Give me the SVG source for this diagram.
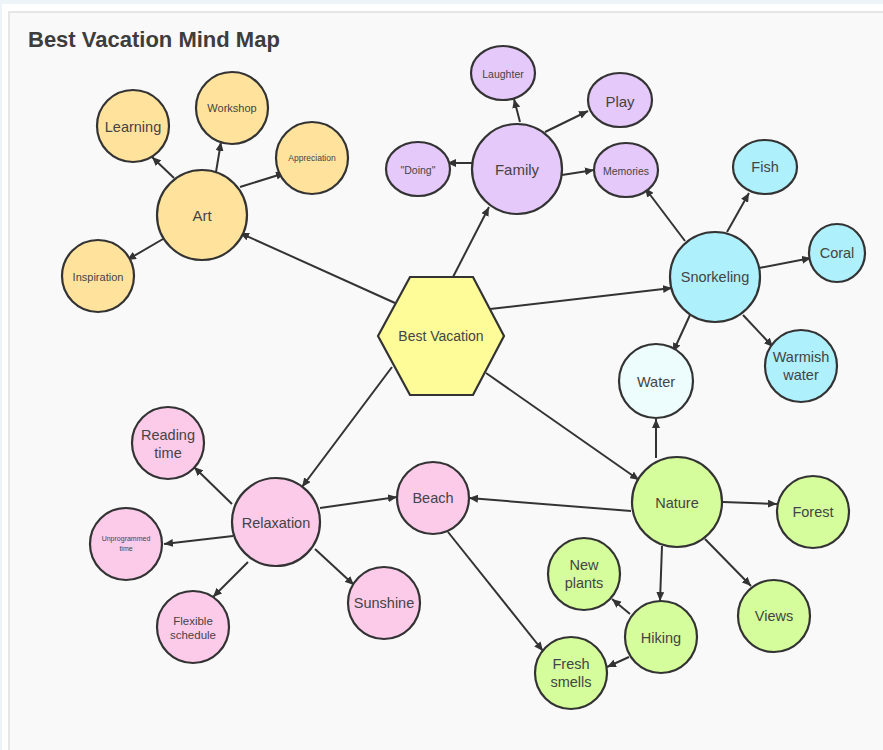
<svg xmlns="http://www.w3.org/2000/svg" width="883" height="750" viewBox="0 0 883 750">
<defs>
<marker id="arr" markerUnits="userSpaceOnUse" markerWidth="9" markerHeight="8" refX="9" refY="4" orient="auto">
<path d="M0,0 L9,4 L0,8 z" fill="#333"/>
</marker>
<style>
.n{stroke:#333;stroke-width:2.2}
.art{fill:#ffe39d}
.fam{fill:#e6c9fb}
.sn{fill:#aef0fc}
.wat{fill:#edfcfd}
.rel{fill:#fccbea}
.nat{fill:#d5fd9b}
.hex{fill:#fdfc98}
text{font-family:"Liberation Sans",Arial,sans-serif;fill:#444;text-anchor:middle;dominant-baseline:central}
.e line{stroke:#333;stroke-width:2;marker-end:url(#arr)}
</style>
</defs>
<rect x="0" y="0" width="883" height="750" fill="#eef5f9"/>
<rect x="2" y="4" width="881" height="746" fill="#ffffff"/>
<rect x="9" y="12" width="880" height="745" fill="#f9f9f9" stroke="#e6e6e6" stroke-width="2"/>
<text x="28" y="39" style="text-anchor:start;font-weight:bold;font-size:22px;fill:#3d3d3d">Best Vacation Mind Map</text>

<g id="connectors" class="e">
<line x1="395" y1="303" x2="240" y2="233"/>
<line x1="174" y1="178" x2="152" y2="157"/>
<line x1="216" y1="172" x2="221" y2="142"/>
<line x1="240" y1="187" x2="285" y2="173"/>
<line x1="163" y1="239" x2="127" y2="260"/>
<line x1="453" y1="277" x2="489" y2="207"/>
<line x1="520" y1="122" x2="514" y2="99"/>
<line x1="545" y1="132" x2="588" y2="111"/>
<line x1="472" y1="163" x2="447" y2="163"/>
<line x1="562" y1="175" x2="594" y2="170"/>
<line x1="490" y1="309" x2="672" y2="288"/>
<line x1="685" y1="241" x2="645" y2="188"/>
<line x1="727" y1="232" x2="749" y2="193"/>
<line x1="759" y1="268" x2="811" y2="258"/>
<line x1="743" y1="315" x2="773" y2="347"/>
<line x1="690" y1="315" x2="673" y2="352"/>
<line x1="392" y1="367" x2="302" y2="487"/>
<line x1="232" y1="504" x2="194" y2="467"/>
<line x1="233" y1="536" x2="164" y2="544"/>
<line x1="248" y1="562" x2="213" y2="597"/>
<line x1="315" y1="549" x2="354" y2="585"/>
<line x1="320" y1="508" x2="397" y2="497"/>
<line x1="631" y1="511" x2="469" y2="498"/>
<line x1="448" y1="532" x2="543" y2="651"/>
<line x1="486" y1="373" x2="639" y2="480"/>
<line x1="656" y1="458" x2="656" y2="419"/>
<line x1="723" y1="502" x2="777" y2="504"/>
<line x1="705" y1="539" x2="751" y2="586"/>
<line x1="662" y1="546" x2="660" y2="601"/>
<line x1="630" y1="614" x2="612" y2="599"/>
<line x1="629" y1="657" x2="607" y2="667"/>
</g>

<g id="best-vacation"><polygon class="n hex" points="378,336 410,277 473,277 504,336 473,395 410,395"/><text x="441" y="336" style="font-size:14px">Best Vacation</text></g>

<g id="art"><circle class="n art" cx="202" cy="215" r="45"/><text x="202" y="215" style="font-size:15px">Art</text></g>
<g id="learning"><circle class="n art" cx="133" cy="126" r="36"/><text x="133" y="127" style="font-size:14.5px">Learning</text></g>
<g id="workshop"><circle class="n art" cx="232" cy="108" r="36"/><text x="232" y="108" style="font-size:11px">Workshop</text></g>
<g id="appreciation"><circle class="n art" cx="312" cy="158" r="36"/><text x="312" y="158" style="font-size:8.5px">Appreciation</text></g>
<g id="inspiration"><circle class="n art" cx="98" cy="276" r="36"/><text x="98" y="277" style="font-size:11px">Inspiration</text></g>

<g id="family"><circle class="n fam" cx="517" cy="169" r="45"/><text x="517" y="169" style="font-size:15px">Family</text></g>
<g id="laughter"><ellipse class="n fam" cx="503" cy="73" rx="32" ry="27"/><text x="503" y="74" style="font-size:10.5px">Laughter</text></g>
<g id="play"><ellipse class="n fam" cx="620" cy="100" rx="32" ry="27"/><text x="620" y="101" style="font-size:15px">Play</text></g>
<g id="doing"><ellipse class="n fam" cx="418" cy="169" rx="32" ry="27"/><text x="418" y="170" style="font-size:10.5px">"Doing"</text></g>
<g id="memories"><ellipse class="n fam" cx="626" cy="170" rx="32" ry="27"/><text x="626" y="171" style="font-size:10.5px">Memories</text></g>

<g id="snorkeling"><circle class="n sn" cx="715" cy="277" r="45"/><text x="715" y="277" style="font-size:14.5px">Snorkeling</text></g>
<g id="fish"><ellipse class="n sn" cx="765" cy="167" rx="32" ry="27"/><text x="765" y="167" style="font-size:14.5px">Fish</text></g>
<g id="coral"><ellipse class="n sn" cx="837" cy="253" rx="28" ry="29"/><text x="837" y="253" style="font-size:14.5px">Coral</text></g>
<g id="warmish-water"><circle class="n sn" cx="801" cy="366" r="36"/><text x="801" y="357" style="font-size:14.5px">Warmish</text><text x="801" y="375" style="font-size:14.5px">water</text></g>
<g id="water"><circle class="n wat" cx="656" cy="381" r="37"/><text x="656" y="382" style="font-size:14.5px">Water</text></g>

<g id="relaxation"><circle class="n rel" cx="276" cy="522" r="44"/><text x="276" y="523" style="font-size:14.5px">Relaxation</text></g>
<g id="reading-time"><circle class="n rel" cx="168" cy="443" r="36"/><text x="168" y="435" style="font-size:14.5px">Reading</text><text x="168" y="453" style="font-size:14.5px">time</text></g>
<g id="unprogrammed-time"><circle class="n rel" cx="126" cy="544" r="36"/><text x="126" y="538.5" style="font-size:7px">Unprogrammed</text><text x="126" y="548.5" style="font-size:7px">time</text></g>
<g id="flexible-schedule"><circle class="n rel" cx="193" cy="627" r="36"/><text x="193" y="621" style="font-size:11.5px">Flexible</text><text x="193" y="635" style="font-size:11.5px">schedule</text></g>
<g id="sunshine"><circle class="n rel" cx="384" cy="603" r="36"/><text x="384" y="603" style="font-size:14.5px">Sunshine</text></g>
<g id="beach"><circle class="n rel" cx="433" cy="498" r="36"/><text x="433" y="498" style="font-size:14.5px">Beach</text></g>

<g id="nature"><circle class="n nat" cx="677" cy="502" r="45"/><text x="677" y="503" style="font-size:14.5px">Nature</text></g>
<g id="forest"><circle class="n nat" cx="813" cy="512" r="36"/><text x="813" y="512" style="font-size:14.5px">Forest</text></g>
<g id="views"><circle class="n nat" cx="774" cy="616" r="36"/><text x="774" y="616" style="font-size:14.5px">Views</text></g>
<g id="hiking"><circle class="n nat" cx="661" cy="637" r="36"/><text x="661" y="638" style="font-size:14.5px">Hiking</text></g>
<g id="new-plants"><circle class="n nat" cx="584" cy="574" r="36"/><text x="584" y="565" style="font-size:14.5px">New</text><text x="584" y="583" style="font-size:14.5px">plants</text></g>
<g id="fresh-smells"><circle class="n nat" cx="571" cy="673" r="36"/><text x="571" y="664" style="font-size:14.5px">Fresh</text><text x="571" y="682" style="font-size:14.5px">smells</text></g>
</svg>
